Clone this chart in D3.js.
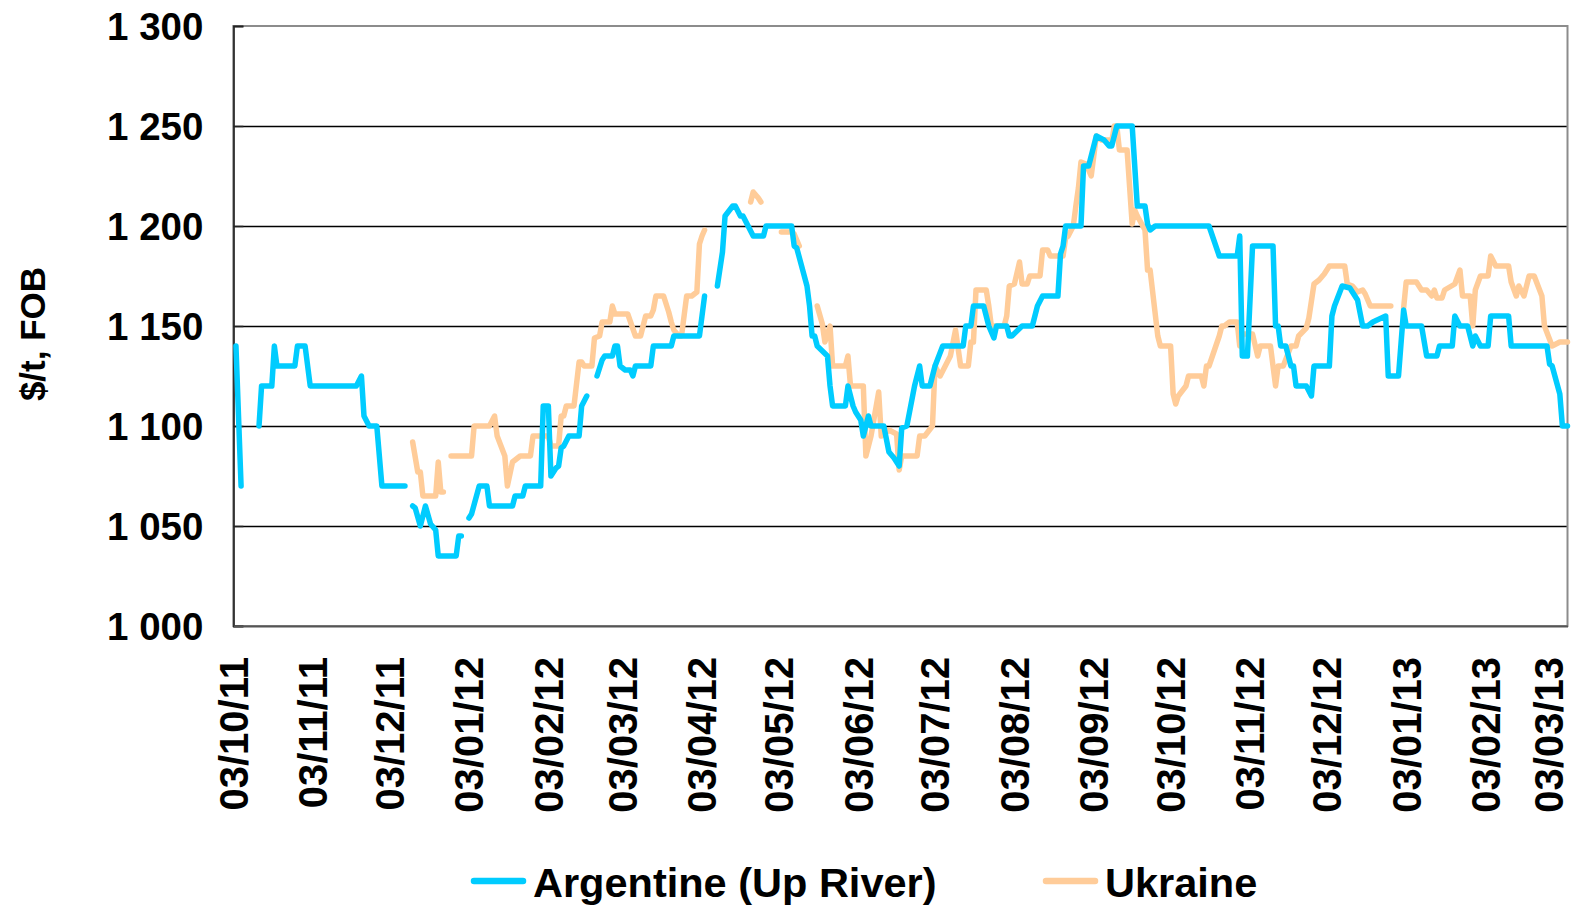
<!DOCTYPE html>
<html><head><meta charset="utf-8">
<script src="https://cdn.jsdelivr.net/npm/d3@7"></script>
<style>
html,body{margin:0;padding:0;background:#fff;}
svg{display:block;}
text{font-family:"Liberation Sans",Arial,sans-serif;font-weight:bold;fill:#000;}
</style></head>
<body>
<svg id="chart" width="1574" height="908"></svg>
<script>
// ---- data (null = gap in the series) ----
const seriesNames = ["Argentine (Up River)", "Ukraine"];
const seriesColors = ["#00CCFF", "#FFCC99"];
const yTicks = [1000, 1050, 1100, 1150, 1200, 1250, 1300];
const xTicks = ["2011-10-03","2011-11-03","2011-12-03","2012-01-03","2012-02-03","2012-03-03","2012-04-03","2012-05-03","2012-06-03","2012-07-03","2012-08-03","2012-09-03","2012-10-03","2012-11-03","2012-12-03","2013-01-03","2013-02-03","2013-03-03"];
const xDomain = ["2011-10-03", "2013-03-07"];

const argentine = [
 ["2011-10-04",1140],["2011-10-06",1070],null,
 ["2011-10-13",1100],["2011-10-14",1120],["2011-10-18",1120],["2011-10-19",1140],["2011-10-20",1130],["2011-10-27",1130],["2011-10-28",1140],["2011-10-31",1140],["2011-11-01",1130],["2011-11-02",1120],["2011-11-20",1120],["2011-11-22",1125],["2011-11-23",1105],["2011-11-25",1100],["2011-11-28",1100],["2011-11-30",1070],["2011-12-09",1070],null,
 ["2011-12-12",1060],["2011-12-13",1059],["2011-12-15",1050],["2011-12-17",1060],["2011-12-19",1051],["2011-12-21",1048],["2011-12-22",1035],["2011-12-29",1035],["2011-12-30",1045],["2011-12-31",1045],null,
 ["2012-01-03",1054],["2012-01-04",1056],["2012-01-07",1070],["2012-01-10",1070],["2012-01-11",1060],["2012-01-20",1060],["2012-01-21",1065],["2012-01-24",1065],["2012-01-25",1070],["2012-01-31",1070],["2012-02-01",1110],["2012-02-03",1110],["2012-02-04",1075],["2012-02-06",1079],["2012-02-07",1080],["2012-02-08",1089],["2012-02-09",1090],["2012-02-11",1095],["2012-02-15",1095],["2012-02-16",1110],["2012-02-18",1115],null,
 ["2012-02-22",1125],["2012-02-24",1133],["2012-02-25",1135],["2012-02-28",1135],["2012-02-29",1140],["2012-03-01",1140],["2012-03-02",1130],["2012-03-04",1128],["2012-03-06",1128],["2012-03-07",1125],["2012-03-08",1130],["2012-03-14",1130],["2012-03-15",1140],["2012-03-22",1140],["2012-03-23",1145],["2012-04-02",1145],["2012-04-03",1155],["2012-04-04",1165],null,
 ["2012-04-09",1170],["2012-04-11",1187],["2012-04-12",1205],["2012-04-15",1210],["2012-04-16",1210],["2012-04-18",1205],["2012-04-19",1205],["2012-04-23",1195],["2012-04-27",1195],["2012-04-28",1200],["2012-05-08",1200],["2012-05-09",1190],["2012-05-10",1189],["2012-05-14",1170],["2012-05-15",1160],["2012-05-16",1145],["2012-05-17",1145],["2012-05-18",1140],["2012-05-22",1135],["2012-05-23",1120],["2012-05-24",1110],["2012-05-29",1110],["2012-05-30",1120],["2012-06-01",1110],["2012-06-02",1107],["2012-06-04",1103],["2012-06-05",1095],["2012-06-07",1105],["2012-06-08",1100],["2012-06-13",1100],["2012-06-15",1087],["2012-06-17",1084],["2012-06-19",1080],["2012-06-20",1099],["2012-06-22",1100],["2012-06-25",1120],["2012-06-27",1130],["2012-06-28",1120],["2012-07-01",1120],["2012-07-03",1130],["2012-07-06",1140],["2012-07-14",1140],["2012-07-15",1150],["2012-07-17",1150],["2012-07-18",1160],["2012-07-22",1160],["2012-07-24",1150],["2012-07-26",1144],["2012-07-27",1150],["2012-07-31",1150],["2012-08-01",1145],["2012-08-02",1145],["2012-08-06",1150],["2012-08-10",1150],["2012-08-12",1160],["2012-08-14",1165],["2012-08-20",1165],["2012-08-21",1186],["2012-08-22",1190],["2012-08-23",1200],["2012-08-29",1200],["2012-08-30",1230],["2012-09-01",1230],["2012-09-04",1245],["2012-09-07",1243],["2012-09-09",1240],["2012-09-10",1240],["2012-09-11",1245],["2012-09-12",1250],["2012-09-18",1250],["2012-09-20",1210],["2012-09-23",1210],["2012-09-24",1201],["2012-09-25",1198],["2012-09-27",1200],["2012-10-18",1200],["2012-10-22",1185],["2012-10-29",1185],["2012-10-30",1195],["2012-10-31",1135],["2012-11-02",1135],["2012-11-04",1190],["2012-11-12",1190],["2012-11-13",1150],["2012-11-14",1150],["2012-11-15",1140],["2012-11-17",1140],["2012-11-19",1130],["2012-11-20",1130],["2012-11-21",1120],["2012-11-25",1120],["2012-11-27",1115],["2012-11-28",1130],["2012-12-04",1130],["2012-12-05",1155],["2012-12-06",1160],["2012-12-09",1170],["2012-12-12",1169],["2012-12-15",1163],["2012-12-17",1150],["2012-12-19",1150],["2012-12-21",1152],["2012-12-26",1155],["2012-12-27",1125],["2012-12-31",1125],["2013-01-02",1158],["2013-01-03",1150],["2013-01-09",1150],["2013-01-11",1135],["2013-01-15",1135],["2013-01-16",1140],["2013-01-21",1140],["2013-01-22",1155],["2013-01-24",1150],["2013-01-27",1150],["2013-01-29",1140],["2013-01-30",1145],["2013-02-01",1140],["2013-02-04",1140],["2013-02-05",1155],["2013-02-12",1155],["2013-02-13",1140],["2013-02-27",1140],["2013-02-28",1131],["2013-03-01",1130],["2013-03-04",1116],["2013-03-05",1100],["2013-03-07",1100]
];

const ukraine = [
 ["2011-12-12",1092],["2011-12-14",1077],["2011-12-15",1077],["2011-12-16",1065],["2011-12-21",1065],["2011-12-22",1082],["2011-12-23",1067],["2011-12-24",1067],null,
 ["2011-12-27",1085],["2012-01-04",1085],["2012-01-05",1100],["2012-01-11",1100],["2012-01-13",1105],["2012-01-14",1095],["2012-01-17",1085],["2012-01-18",1070],["2012-01-19",1076],["2012-01-20",1082],["2012-01-23",1085],["2012-01-27",1085],["2012-01-28",1095],["2012-02-03",1095],["2012-02-04",1090],["2012-02-07",1090],["2012-02-08",1105],["2012-02-09",1105],["2012-02-10",1110],["2012-02-13",1110],["2012-02-15",1132],["2012-02-16",1132],["2012-02-17",1130],["2012-02-20",1130],["2012-02-21",1144],["2012-02-23",1145],["2012-02-24",1152],["2012-02-27",1152],["2012-02-28",1160],["2012-02-29",1156],["2012-03-05",1156],["2012-03-08",1145],["2012-03-10",1145],["2012-03-12",1155],["2012-03-14",1155],["2012-03-15",1158],["2012-03-16",1165],["2012-03-19",1165],["2012-03-21",1157],["2012-03-22",1152],["2012-03-23",1148],["2012-03-25",1145],["2012-03-26",1145],["2012-03-28",1165],["2012-03-30",1165],["2012-04-01",1167],["2012-04-02",1191],["2012-04-03",1195],["2012-04-04",1198],null,
 ["2012-04-22",1212],["2012-04-23",1217],["2012-04-25",1214],["2012-04-26",1212],null,
 ["2012-05-04",1197],["2012-05-08",1197],["2012-05-09",1196],["2012-05-11",1190],null,
 ["2012-05-18",1160],["2012-05-20",1151],["2012-05-21",1142],["2012-05-23",1150],["2012-05-24",1130],["2012-05-29",1130],["2012-05-30",1135],["2012-05-31",1120],["2012-06-05",1120],["2012-06-06",1085],["2012-06-08",1095],["2012-06-11",1117],["2012-06-12",1095],["2012-06-15",1098],["2012-06-18",1096],["2012-06-19",1078],["2012-06-20",1085],["2012-06-26",1085],["2012-06-27",1095],["2012-06-29",1095],["2012-07-02",1100],["2012-07-03",1130],["2012-07-05",1125],["2012-07-07",1130],["2012-07-09",1135],["2012-07-11",1148],["2012-07-13",1130],["2012-07-16",1130],["2012-07-17",1142],["2012-07-18",1142],["2012-07-19",1168],["2012-07-23",1168],["2012-07-24",1160],["2012-07-25",1150],["2012-07-30",1150],["2012-07-31",1155],["2012-08-01",1170],["2012-08-03",1171],["2012-08-05",1182],["2012-08-06",1171],["2012-08-08",1171],["2012-08-09",1175],["2012-08-13",1175],["2012-08-14",1188],["2012-08-16",1188],["2012-08-17",1185],["2012-08-22",1185],["2012-08-23",1194],["2012-08-24",1195],["2012-08-26",1200],["2012-08-27",1210],["2012-08-28",1219],["2012-08-29",1232],["2012-08-31",1231],["2012-09-02",1225],["2012-09-04",1245],["2012-09-06",1243],["2012-09-09",1243],["2012-09-10",1242],["2012-09-11",1250],["2012-09-12",1250],["2012-09-13",1238],["2012-09-16",1238],["2012-09-18",1201],["2012-09-19",1208],["2012-09-20",1205],["2012-09-23",1198],["2012-09-24",1178],["2012-09-25",1178],["2012-09-28",1145],["2012-09-29",1140],["2012-10-03",1140],["2012-10-04",1116],["2012-10-05",1111],["2012-10-06",1115],["2012-10-09",1120],["2012-10-10",1125],["2012-10-15",1125],["2012-10-16",1120],["2012-10-17",1130],["2012-10-18",1130],["2012-10-22",1145],["2012-10-23",1150],["2012-10-24",1150],["2012-10-26",1152],["2012-10-29",1152],["2012-10-30",1140],["2012-10-31",1146],["2012-11-04",1146],["2012-11-06",1135],["2012-11-07",1140],["2012-11-11",1140],["2012-11-13",1120],["2012-11-14",1130],["2012-11-16",1130],["2012-11-19",1140],["2012-11-21",1140],["2012-11-22",1145],["2012-11-25",1149],["2012-11-26",1154],["2012-11-28",1171],["2012-11-30",1173],["2012-12-02",1176],["2012-12-04",1180],["2012-12-10",1180],["2012-12-11",1171],["2012-12-13",1170],["2012-12-15",1167],["2012-12-17",1168],["2012-12-18",1166],["2012-12-20",1160],["2012-12-28",1160],null,
 ["2013-01-02",1159],["2013-01-03",1172],["2013-01-07",1172],["2013-01-09",1168],["2013-01-11",1168],["2013-01-13",1165],["2013-01-14",1168],["2013-01-15",1164],["2013-01-17",1164],["2013-01-18",1168],["2013-01-22",1171],["2013-01-24",1178],["2013-01-25",1165],["2013-01-28",1165],["2013-01-29",1150],["2013-01-30",1168],["2013-02-01",1175],["2013-02-04",1175],["2013-02-05",1185],["2013-02-07",1180],["2013-02-12",1180],["2013-02-13",1172],["2013-02-15",1165],["2013-02-16",1170],["2013-02-18",1165],["2013-02-20",1175],["2013-02-22",1175],["2013-02-25",1165],["2013-02-26",1150],["2013-03-01",1140],["2013-03-04",1142],["2013-03-07",1142]
];

// ---- drawing ----
const parse = d3.timeParse("%Y-%m-%d");
const fmt = d3.timeFormat("%d/%m/%y");
const svg = d3.select("#chart");
const W = 1574;
const L = 233.4, R = 1567.5, T = 26, B = 626;

const x = d3.scaleTime().domain(xDomain.map(parse)).range([L, R]);
const y = d3.scaleLinear().domain([1000, 1300]).range([B, T]);

// gridlines
svg.append("g").selectAll("line").data(yTicks.filter(v => v > 1000 && v < 1300)).join("line")
  .attr("x1", L).attr("x2", R).attr("y1", d => y(d) + 0.5).attr("y2", d => y(d) + 0.5)
  .attr("stroke", "#000").attr("stroke-width", 1.3);

// plot frame
svg.append("rect").attr("x", L).attr("y", T).attr("width", R - L).attr("height", B - T)
  .attr("fill", "none").attr("stroke", "#8c8c8c").attr("stroke-width", 2);

// y axis
const yAxis = d3.axisLeft(y).tickValues(yTicks).tickSize(-10).tickPadding(30)
  .tickFormat(d => d3.format(",")(d).replace(",", " "));
const gy = svg.append("g").attr("transform", `translate(${L},0)`).call(yAxis);
gy.select(".domain").attr("stroke", "#333").attr("stroke-width", 2);
gy.selectAll(".tick line").attr("stroke", "#222").attr("stroke-width", 1.5);
gy.selectAll(".tick text").attr("font-size", 38.5).attr("font-family", "Liberation Sans, Arial, sans-serif")
  .attr("font-weight", "bold").attr("fill", "#000").attr("dy", "0.36em");

// x axis
const xAxis = d3.axisBottom(x).tickValues(xTicks.map(parse)).tickSize(0).tickFormat(fmt);
const gx = svg.append("g").attr("transform", `translate(0,${B})`).call(xAxis);
gx.select(".domain").attr("stroke", "#555").attr("stroke-width", 2);
gx.selectAll(".tick").attr("transform", d => {
  const px = Math.min(x(d), W - 25);
  return `translate(${px},0)`;
});
gx.selectAll(".tick text")
  .attr("font-size", 40).attr("font-family", "Liberation Sans, Arial, sans-serif")
  .attr("font-weight", "bold").attr("fill", "#000")
  .attr("text-anchor", "end").attr("transform", "rotate(-90)")
  .attr("x", -31).attr("y", 0).attr("dy", "0.36em");

// y title
svg.append("text").attr("transform", "translate(32,334) rotate(-90)")
  .attr("text-anchor", "middle").attr("dy", "0.36em").attr("font-size", 35).text("$/t, FOB");

// lines
const line = d3.line().defined(d => d !== null).x(d => x(parse(d[0]))).y(d => y(d[1]));
[ukraine, argentine].forEach(s => {
  const idx = s === argentine ? 0 : 1;
  svg.append("path").datum(s).attr("d", line).attr("fill", "none")
    .attr("stroke", seriesColors[idx]).attr("stroke-width", 5.5)
    .attr("stroke-linejoin", "round").attr("stroke-linecap", "round");
});

// legend
const legendX = [474, 1046];
seriesNames.forEach((n, i) => {
  svg.append("line").attr("x1", legendX[i]).attr("x2", legendX[i] + 49).attr("y1", 881).attr("y2", 881)
    .attr("stroke", seriesColors[i]).attr("stroke-width", 6.5).attr("stroke-linecap", "round");
  svg.append("text").attr("x", legendX[i] + 59).attr("y", 882).attr("dy", "0.36em")
    .attr("font-size", 41.5).text(n);
});
</script>
</body></html>
